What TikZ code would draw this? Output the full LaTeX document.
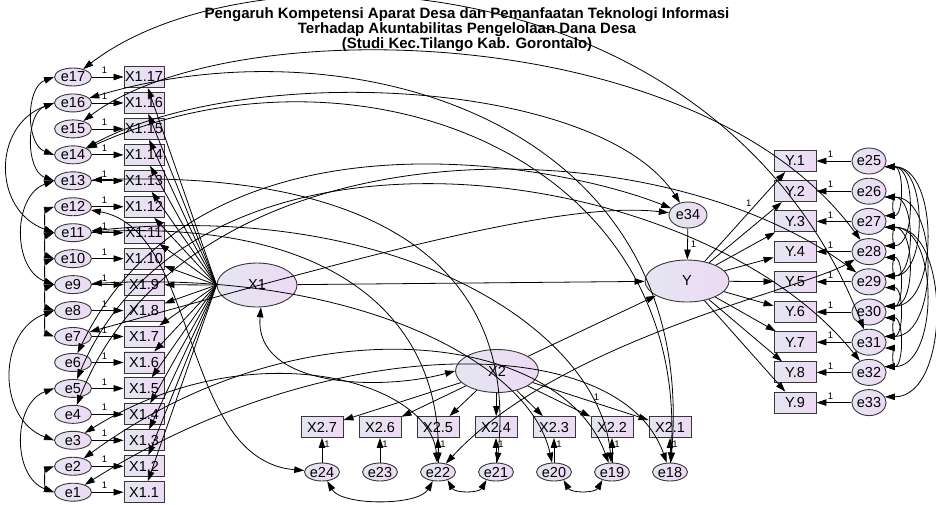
\documentclass[tikz,border=0pt]{standalone}
\usepackage{fontspec}
\setmainfont{Liberation Sans}
\usetikzlibrary{arrows.meta}
\usetikzlibrary{shapes.geometric}
\definecolor{amosL}{RGB}{228,230,241}
\definecolor{amosR}{RGB}{238,217,245}
\definecolor{amosD}{RGB}{55,55,55}

\begin{document}
\begin{tikzpicture}[x=1pt, y=1pt,
    >={Triangle[length=10pt,width=6.5pt]},
    font=\fontsize{14.5}{16}\selectfont,
    obs/.style={draw=amosD, line width=0.9pt, rectangle, left color=amosL, right color=amosR,
        minimum width=40pt, minimum height=21pt, inner sep=0pt},
    lat/.style={draw=amosD, line width=0.9pt, ellipse, left color=amosL, right color=amosR, inner sep=0pt},
    err/.style={lat, minimum width=37pt, minimum height=18pt},
    one/.style={font=\fontsize{9.5}{9.5}\selectfont, inner sep=0pt},
    reg/.style={->, line width=0.8pt},
    cov/.style={<->, line width=0.8pt}]
    \useasboundingbox (0,0) rectangle (936,-504);

    \node[font=\bfseries\fontsize{15}{13.6}\selectfont, align=center] (title) at (467,-30)
        {Pengaruh Kompetensi Aparat Desa dan Pemanfaatan Teknologi Informasi\\
         Terhadap Akuntabilitas Pengelolaan Dana Desa\\
         (Studi Kec.Tilango Kab. Gorontalo)};

    % latent variables
    \node[lat, minimum width=80pt, minimum height=44pt] (X1) at (257,-285) {X1};
    \node[lat, minimum width=83pt, minimum height=43pt] (X2) at (497,-371) {X2};
    \node[lat, minimum width=84pt, minimum height=42pt] (Y) at (687,-281) {Y};
    \node[err, minimum width=38pt, minimum height=26pt] (e34) at (688,-215) {e34};

    % indicators X1
    \foreach \k in {1,...,17}{
        \pgfmathsetmacro{\yy}{-77-(17-\k)*25.95}
        \node[err] (e\k) at (73,\yy) {e\k};
        \node[obs] (XA\k) at (144,\yy) {X1.\k};
    }
    % indicators X2
    \foreach \k in {1,...,7}{
        \pgfmathsetmacro{\xx}{670-(\k-1)*58}
        \pgfmathtruncatemacro{\ee}{17+\k}
        \node[obs, minimum width=42pt] (XB\k) at (\xx,-427) {X2.\k};
        \node[err, minimum width=35pt] (e\ee) at (\xx,-472) {e\ee};
    }
    % indicators Y
    \foreach \k in {1,...,9}{
        \pgfmathsetmacro{\yy}{-161-(\k-1)*30.2}
        \pgfmathtruncatemacro{\ee}{24+\k}
        \node[obs, minimum width=42pt] (YI\k) at (795,\yy) {Y.\k};
        \node[err, minimum width=31pt, minimum height=26pt] (e\ee) at (869,\yy) {e\ee};
    }

    % loadings and errors
    \foreach \k in {1,...,17}{
        \draw[reg] (e\k) -- (XA\k) node[one, pos=0.4, above=3pt] {1};
        \draw[reg] (X1.west) -- (XA\k);
    }
    \draw[reg] (X2) -- (XB1) node[one, pos=0.55, above=2pt] {1};
    \foreach \k in {2,...,7}
        \draw[reg] (X2) -- (XB\k);
    \foreach \k in {1,...,7}{
        \pgfmathtruncatemacro{\ee}{17+\k}
        \draw[reg] (e\ee) -- (XB\k) node[one, pos=0.75, right=2pt] {1};
    }
    \draw[reg] (Y) -- (YI1) node[one, pos=0.6, above left=1pt] {1};
    \foreach \k in {2,...,9}
        \draw[reg] (Y) -- (YI\k);
    \foreach \k in {1,...,9}{
        \pgfmathtruncatemacro{\ee}{24+\k}
        \draw[reg] (e\ee) -- (YI\k) node[one, pos=0.6, above=3pt] {1};
    }

    % structural part
    \draw[reg] (X1) -- (Y);
    \draw[reg] (X2) -- (Y);
    \draw[reg] (e34) -- (Y) node[one, midway, right=3pt] {1};
    \draw[cov] (X1.-80) to[out=-95, in=195] (X2.west);

    % correlated errors, left
    \foreach \a/\b/\l in {17/14/1, 16/13/1, 16/11/1.3, 13/9/1.1, 12/11/1, 11/10/1,
                          10/9/1, 9/8/1, 8/7/1, 8/3/1.2, 5/1/1.1, 2/1/1}
        \draw[cov] (e\a.west) to[out=200, in=160, looseness=\l] (e\b.west);
    % correlated errors, bottom
    \draw[cov] (e24.-60) to[out=-60, in=-120, looseness=0.7] (e22.-120);
    \draw[cov] (e22.-40) to[out=-60, in=-120] (e21.-140);
    \draw[cov] (e20.-40) to[out=-60, in=-120] (e19.-140);
    % correlated errors, right
    \foreach \a/\b in {25/27, 25/28, 25/29, 25/30, 26/27, 26/29, 26/31, 27/28, 27/30, 27/32,
                       28/29, 28/30, 29/31, 30/31, 30/32, 31/32, 27/33}
        \draw[cov] (e\a.-20) to[out=0, in=0] (e\b.20);

    % correlated errors, long
    \draw[cov] (e17) .. controls (250,60) and (720,40) .. (e31);
    \draw[cov] (e15) .. controls (230,-10) and (700,-20) .. (e28);
    \draw[cov] (e14) .. controls (250,-60) and (600,-80) .. (e34);
    \draw[cov] (e14) .. controls (350,-30) and (690,-150) .. (e18);
    \draw[cov] (e16) .. controls (350,-20) and (700,-120) .. (e18);
    \draw[cov] (e13) .. controls (350,-170) and (520,-250) .. (e21);
    \draw[cov] (e12) .. controls (200,-230) and (180,-460) .. (e24);
    \draw[cov] (e11) .. controls (400,-200) and (600,-330) .. (e19);
    \draw[cov] (e11) .. controls (350,-220) and (440,-330) .. (e22);
    \draw[cov] (e9) .. controls (350,-270) and (530,-360) .. (e20);
    \draw[cov] (e7) .. controls (350,-260) and (560,-200) .. (e34);
    \draw[cov] (e6) .. controls (200,-100) and (550,-160) .. (e34);
    \draw[cov] (e5) .. controls (200,-90) and (700,-160) .. (e32);
    \draw[cov] (e4) .. controls (190,-120) and (650,-120) .. (e29);
    \draw[cov] (e3) .. controls (250,-330) and (430,-380) .. (e22);
    \draw[cov] (e2) .. controls (300,-300) and (560,-330) .. (e19);
    \draw[cov] (e1) .. controls (330,-330) and (620,-330) .. (e18);
    \draw[cov] (e22) .. controls (560,-340) and (800,-290) .. (e28);
\end{tikzpicture}
\end{document}
